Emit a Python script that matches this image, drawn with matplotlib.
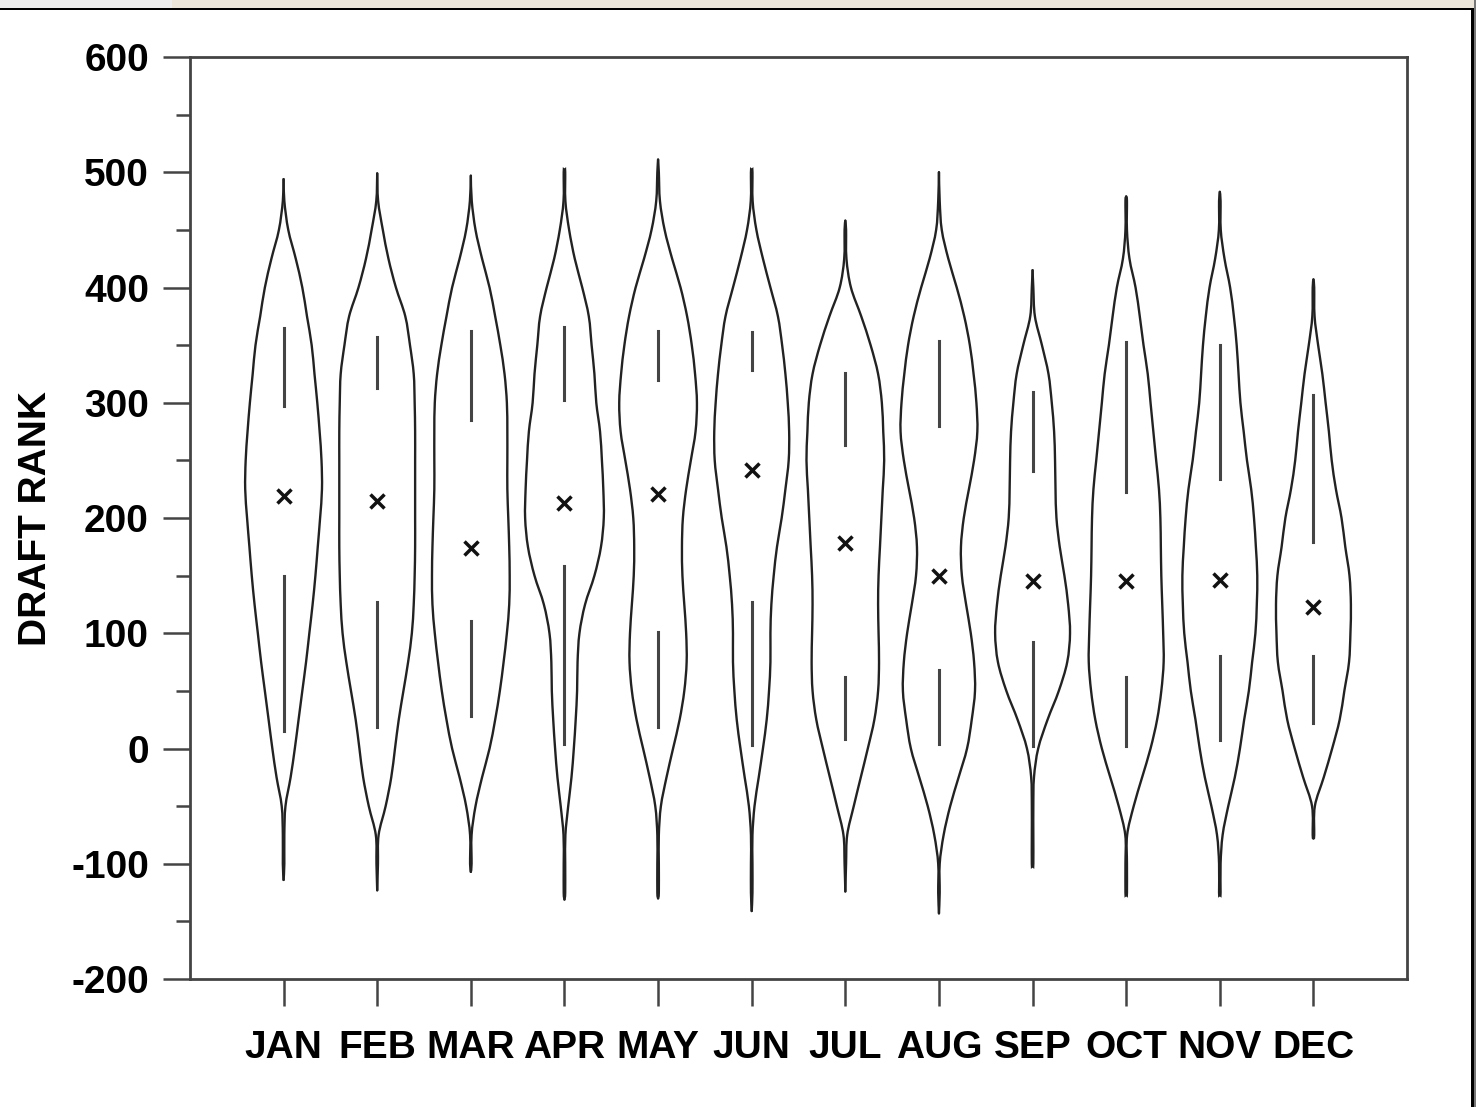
import matplotlib.pyplot as plt
from matplotlib.patches import Rectangle, PathPatch
from matplotlib.path import Path
import numpy as np

plt.rcParams['font.family'] = ['Liberation Sans', 'DejaVu Sans']
plt.rcParams['axes.unicode_minus'] = False

# Meses y medias (marcadas con una x)
months = ['JAN', 'FEB', 'MAR', 'APR', 'MAY', 'JUN', 'JUL', 'AUG', 'SEP', 'OCT', 'NOV', 'DEC']
means = [219, 215, 174, 213, 221, 242, 178, 150, 145, 145, 146, 123]

# Extremos de cada violin (colas)
tip_lo = [-114, -123, -107, -131, -130, -141, -124, -143, -102, -127, -127, -78]
tip_hi = [494, 499, 497, 502, 511, 502, 458, 500, 415, 479, 483, 407]

# Segmentos verticales dentro de cada violin
upper_lo = [297, 313, 285, 302, 320, 328, 263, 280, 241, 223, 234, 179]
upper_hi = [365, 357, 362, 366, 362, 361, 326, 354, 309, 353, 350, 307]
lower_lo = [15, 19, 28, 4, 19, 3, 8, 4, 2, 2, 7, 22]
lower_hi = [150, 127, 111, 158, 101, 127, 62, 68, 92, 62, 80, 80]

# Semi-ancho del contorno (en unidades de mes) a cada nivel de rango
levels = [-150, -125, -100, -75, -50, -25, 0, 25, 50, 75, 100, 125, 150, 175,
          200, 225, 250, 275, 300, 325, 350, 375, 400, 425, 450, 475, 500, 525]
half_width = {
    'JAN': [0, 0, .008, .008, .02, .075, .12, .16, .20, .24, .275, .31, .34, .365,
            .39, .41, .405, .385, .36, .33, .30, .25, .20, .13, .05, .008, 0, 0],
    'FEB': [0, 0, .008, .015, .09, .15, .19, .23, .28, .33, .37, .39, .40, .405,
            .405, .405, .405, .405, .40, .39, .35, .30, .20, .12, .06, .01, 0, 0],
    'MAR': [0, 0, .008, .008, .05, .12, .20, .26, .31, .35, .385, .41, .415, .41,
            .40, .39, .39, .39, .385, .36, .315, .26, .20, .12, .05, .01, 0, 0],
    'APR': [0, .008, .008, .01, .04, .075, .10, .12, .135, .14, .16, .22, .32, .39,
            .42, .415, .40, .38, .34, .32, .29, .26, .19, .11, .05, .01, .008, 0],
    'MAY': [0, .008, .008, .008, .03, .09, .16, .23, .28, .305, .30, .28, .26, .255,
            .265, .30, .35, .40, .415, .395, .36, .31, .24, .15, .07, .02, .008, 0],
    'JUN': [0, .008, .008, .008, .03, .075, .12, .16, .185, .20, .20, .21, .235, .27,
            .32, .36, .395, .40, .385, .36, .325, .28, .20, .12, .05, .01, .008, 0],
    'JUL': [0, 0, .008, .02, .09, .165, .24, .31, .35, .36, .355, .35, .355, .37,
            .385, .40, .415, .405, .39, .35, .27, .17, .06, .012, .008, 0, 0, 0],
    'AUG': [0, .008, .008, .05, .12, .21, .30, .35, .385, .375, .34, .29, .245, .235,
            .265, .32, .375, .41, .40, .37, .33, .27, .19, .10, .03, .008, 0, 0],
    'SEP': [0, 0, .008, .008, .008, .015, .06, .16, .28, .37, .40, .38, .34, .29,
            .255, .245, .24, .23, .205, .17, .10, .025, .008, 0, 0, 0, 0, 0],
    'OCT': [0, .008, .008, .01, .08, .17, .26, .33, .375, .40, .395, .385, .375, .37,
            .365, .35, .32, .29, .26, .23, .185, .145, .10, .035, .008, .008, 0, 0],
    'NOV': [0, .008, .008, .03, .09, .16, .215, .26, .31, .345, .38, .395, .40, .385,
            .365, .335, .29, .255, .22, .20, .18, .15, .11, .05, .01, .008, 0, 0],
    'DEC': [0, 0, 0, .008, .015, .11, .20, .28, .33, .38, .395, .40, .385, .34,
            .30, .24, .195, .165, .13, .095, .05, .012, .008, 0, 0, 0, 0, 0],
}


def smooth_path(xs, ys):
    # curva suave (Bezier) que pasa por los puntos leidos
    p = np.column_stack([xs, ys])
    ext = np.vstack([p[0], p, p[-1]])
    verts = [p[0]]
    codes = [Path.MOVETO]
    for k in range(len(p) - 1):
        p0, p1, p2, p3 = ext[k], ext[k + 1], ext[k + 2], ext[k + 3]
        verts += [p1 + (p2 - p0) / 6, p2 - (p3 - p1) / 6, p2]
        codes += [Path.CURVE4] * 3
    return Path(verts, codes)


fig = plt.figure(figsize=(14.76, 11.07), dpi=100)
ax = fig.add_axes([0.1287, 0.1156, 0.9533 - 0.1287, 0.9485 - 0.1156])

line_col = '#222222'
lv = np.array(levels, dtype=float)
for i, m in enumerate(months):
    pos = i + 1
    hw = np.array(half_width[m])
    keep = (lv > tip_lo[i]) & (lv < tip_hi[i])
    ys = np.concatenate([[tip_lo[i]], lv[keep], [tip_hi[i]]])
    ws = np.concatenate([[0], hw[keep], [0]])
    for side in (-1, 1):
        ax.add_patch(PathPatch(smooth_path(pos + side * ws, ys), fill=False,
                               edgecolor=line_col, lw=1.7, capstyle='round'))

    # segmentos internos
    ax.plot([pos, pos], [upper_lo[i], upper_hi[i]], color='#444444', lw=2.2)
    ax.plot([pos, pos], [lower_lo[i], lower_hi[i]], color='#444444', lw=2.2)
    ax.plot(pos, means[i], marker='x', ms=10, mew=2.5, color='#111111')

ax.set_xlim(0, 13)
ax.set_ylim(-200, 600)
ax.set_xticks(range(1, 13))
ax.set_xticklabels(months, fontsize=28, fontweight='bold')
ax.set_yticks(range(-200, 601, 100))
ax.set_yticks(range(-150, 600, 100), minor=True)
for lab in ax.get_yticklabels():
    lab.set_fontsize(28)
    lab.set_fontweight('bold')
ax.tick_params(axis='x', which='major', direction='out', length=19.5, width=1.8,
               color='#444444', pad=17)
ax.tick_params(axis='y', which='major', direction='out', length=19.5, width=1.8,
               color='#444444', pad=10)
ax.tick_params(axis='y', which='minor', direction='out', length=10, width=1.8,
               color='#444444')
ax.set_ylabel('DRAFT RANK', fontsize=28, fontweight='bold', labelpad=12)
for sp in ax.spines.values():
    sp.set_color('#444444')
    sp.set_linewidth(2)

# marco de la captura de pantalla
fig.patches.append(Rectangle((0, 1 - 8 / 1107), 1, 8 / 1107, transform=fig.transFigure,
                             facecolor='#ece5da', edgecolor='none'))
fig.patches.append(Rectangle((0, 1 - 8 / 1107), 172 / 1476, 8 / 1107, transform=fig.transFigure,
                             facecolor='#eeeeee', edgecolor='none'))
fig.patches.append(Rectangle((0, 1 - 10 / 1107), 1, 2.5 / 1107, transform=fig.transFigure,
                             facecolor='black', edgecolor='none'))
fig.patches.append(Rectangle((1471 / 1476, 0), 2.5 / 1476, 1 - 8 / 1107, transform=fig.transFigure,
                             facecolor='black', edgecolor='none'))
fig.patches.append(Rectangle((1473.5 / 1476, 0), 2.5 / 1476, 1, transform=fig.transFigure,
                             facecolor='#777777', edgecolor='none'))

fig.savefig('out.png', dpi=100)
